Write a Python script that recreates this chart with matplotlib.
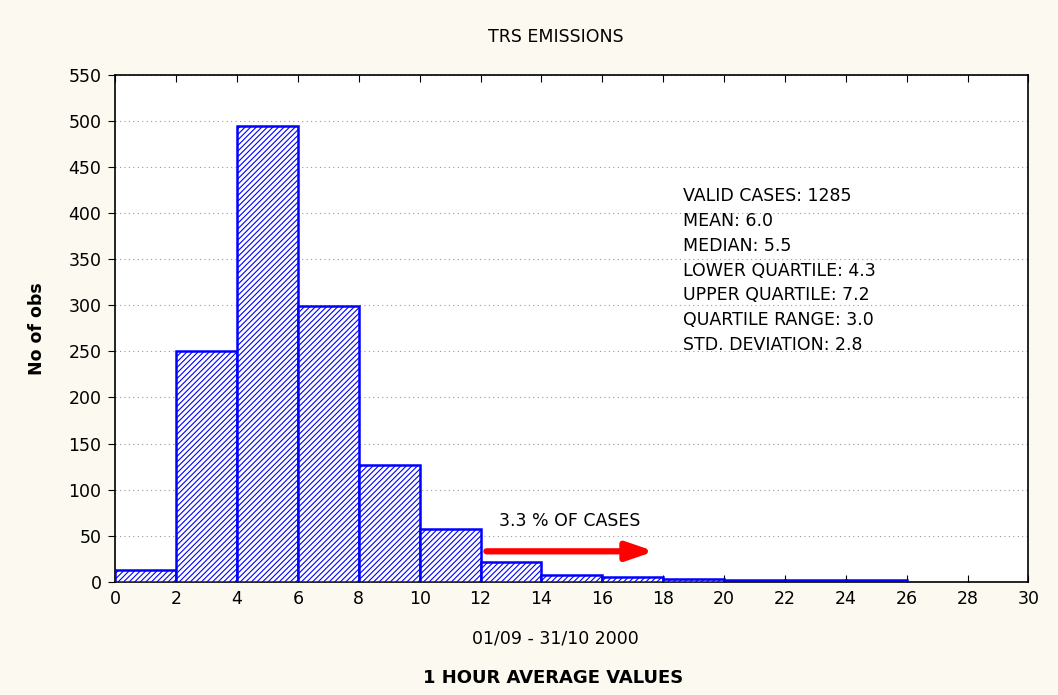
import matplotlib.pyplot as plt

plt.rcParams['font.family'] = ['DejaVu Sans']
plt.rcParams['hatch.color'] = 'blue'
plt.rcParams['hatch.linewidth'] = 0.8

# histogram bins (1 hour average values) and counts
bin_left = [0, 2, 4, 6, 8, 10, 12, 14, 16, 18, 20, 22, 24]
counts = [13, 250, 495, 299, 127, 57, 21, 7, 5, 3, 2, 2, 2]
bin_width = 2

stats_lines = [
    "VALID CASES: 1285",
    "MEAN: 6.0",
    "MEDIAN: 5.5",
    "LOWER QUARTILE: 4.3",
    "UPPER QUARTILE: 7.2",
    "QUARTILE RANGE: 3.0",
    "STD. DEVIATION: 2.8",
]

bg = '#fcf9f0'
fig = plt.figure(figsize=(10.58, 6.95), dpi=100, facecolor=bg)
ax = fig.add_axes([0.109, 0.163, 0.863, 0.729])
ax.set_facecolor('white')

ax.bar(bin_left, counts, width=bin_width, align='edge', color='white',
       edgecolor='blue', linewidth=1.8, hatch='//////', zorder=3)

fs = 12.5
ax.set_xlim(0, 30)
ax.set_ylim(0, 550)
ax.set_xticks(range(0, 31, 2))
ax.set_yticks(range(0, 551, 50))
ax.yaxis.grid(True, linestyle=(0, (1, 3)), color='#999999', linewidth=0.8, zorder=0)
ax.tick_params(axis='x', direction='in', top=True, length=5, labelsize=fs, pad=6)
ax.tick_params(axis='y', direction='out', length=5, labelsize=fs, pad=5)
for s in ax.spines.values():
    s.set_linewidth(1.2)

ax.set_title("TRS EMISSIONS", fontsize=fs, pad=24, x=0.482)
ax.set_ylabel("No of obs", fontsize=fs, fontweight='bold', labelpad=16)
ax.set_xlabel("01/09 - 31/10 2000", fontsize=fs, labelpad=15)
ax.xaxis.set_label_coords(0.482, -0.095)
fig.text(0.523, 0.024, "1 HOUR AVERAGE VALUES", ha='center', va='center',
         fontsize=13, fontweight='bold')

ax.text(18.65, 428, "\n".join(stats_lines), fontsize=fs, va='top',
        ha='left', linespacing=1.48, zorder=5)

ax.annotate("", xy=(17.8, 33), xytext=(12.1, 33),
            arrowprops=dict(arrowstyle='-|>,head_length=1.6,head_width=0.55',
                            color='red', lw=4.5), zorder=5)
ax.text(12.6, 66, "3.3 % OF CASES", fontsize=fs, ha='left', va='center', zorder=5)

fig.savefig("out.png", dpi=100, facecolor=bg)
